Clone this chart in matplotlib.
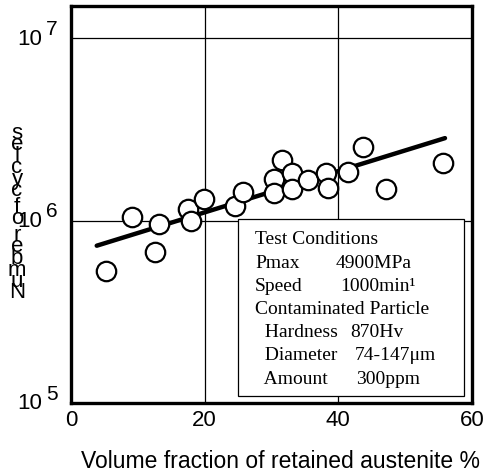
import numpy as np
import matplotlib
matplotlib.use("Agg")
import matplotlib.pyplot as plt
from matplotlib.transforms import blended_transform_factory, offset_copy

# Data
austenite = [5.3, 9.1, 12.6, 13.2, 17.5, 18.0, 19.9, 24.5, 25.7, 30.3, 30.3,
             31.5, 33.1, 33.1, 35.5, 38.2, 38.5, 41.5, 43.7, 47.1, 55.7]
cycles = [5.3e5, 1.04e6, 6.75e5, 9.6e5, 1.16e6, 1.0e6, 1.31e6, 1.20e6, 1.43e6, 1.69e6, 1.41e6,
          2.15e6, 1.82e6, 1.48e6, 1.67e6, 1.82e6, 1.50e6, 1.84e6, 2.52e6, 1.49e6, 2.07e6]
fit_x = [3.85, 55.96]
fit_y = [7.28e5, 2.83e6]

x_ticks = [0, 20, 40, 60]
y_exponents = [5, 6, 7]

conditions = [
    ("Test Conditions", ""),
    ("Pmax", "4900MPa"),
    ("Speed", "1000min\u00b9"),
    ("Contaminated Particle", ""),
    ("  Hardness", "870Hv"),
    ("  Diameter", "74-147\u03bcm"),
    ("  Amount", "300ppm"),
]
value_x = [0, 336, 340, 0, 350, 355, 356]

W, H = 494, 477
plt.rcParams['font.family'] = ['Liberation Sans', 'DejaVu Sans']
fig = plt.figure(figsize=(W / 100, H / 100), dpi=100)
ax = fig.add_axes([71 / W, 1 - 404 / H, 401 / W, 397 / H])

ax.set_yscale('log')
ax.set_xlim(0, 60)
ax.set_ylim(1e5, 10 ** 7.176)

# grid
for gx in [20, 40]:
    ax.axvline(gx, color='black', lw=0.9, zorder=1)
for e in [6, 7]:
    ax.axhline(10 ** e, color='black', lw=0.9, zorder=1)

ax.plot(fit_x, fit_y, color='black', lw=3.2, solid_capstyle='round', zorder=3)
ax.plot(austenite, cycles, 'o', ms=14, mfc='white', mec='black', mew=1.6,
        zorder=4)

for s in ax.spines.values():
    s.set_linewidth(2.4)

ax.set_xticks(x_ticks)
ax.set_xticklabels([str(t) for t in x_ticks], fontsize=16)
ax.tick_params(axis='x', length=0, pad=4)
ax.set_yticks([10 ** e for e in y_exponents])
ax.set_yticklabels([])
ax.yaxis.set_minor_locator(matplotlib.ticker.NullLocator())
ax.tick_params(axis='y', length=0)

trans = blended_transform_factory(fig.transFigure, ax.transData)
for e in y_exponents:
    ax.text(42 / W, 10 ** e, "10", transform=trans, ha='right', va='center',
            fontsize=16)
    ax.text(46 / W, 10 ** e, str(e),
            transform=offset_copy(trans, fig=fig, x=0, y=7, units='points'),
            ha='left', va='center', fontsize=15)

# conditions box
bx0, by0, bx1, by1 = 238, 220, 464, 397
box = plt.Rectangle((bx0 / W, 1 - by1 / H), (bx1 - bx0) / W, (by1 - by0) / H,
                    transform=fig.transFigure, facecolor='white',
                    edgecolor='black', lw=0.9, zorder=5)
fig.patches.append(box)
for i, (label, value) in enumerate(conditions):
    ty = 240 + i * 23.2
    fig.text(255 / W, 1 - ty / H, label, ha='left', va='center',
             fontsize=14, family='Liberation Serif', zorder=6)
    if value:
        fig.text(value_x[i] / W, 1 - ty / H, value, ha='left', va='center',
                 fontsize=14, family='Liberation Serif', zorder=6)

# x label
fig.text(280 / W, 1 - 462 / H, "Volume fraction of retained austenite %",
         ha='center', va='center', fontsize=16.5)

# stacked y label, characters from bottom to top
ylabel = "Number of cycles"
cy = 293
for ch in ylabel:
    if ch == " ":
        cy -= 5
        continue
    fig.text(17 / W, 1 - cy / H, ch, ha='center', va='center', fontsize=16)
    cy -= 11.5

fig.savefig("out.png", dpi=100)
